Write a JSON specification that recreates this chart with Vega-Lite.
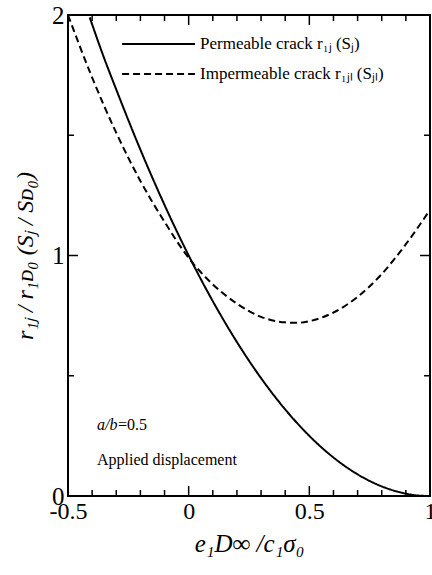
{
  "$schema": "https://vega.github.io/schema/vega-lite/v6.json",
  "width": 362,
  "height": 481,
  "autosize": {"type": "none"},
  "padding": {"left": 68, "top": 15, "right": 2, "bottom": 79},
  "background": "white",
  "config": {
    "font": "Liberation Serif",
    "view": {"stroke": "black", "strokeWidth": 2},
    "axis": {"grid": false, "domain": false, "labelColor": "black", "tickColor": "black", "titleColor": "black", "labelFlush": false, "labelOverlap": false, "labelBound": false}
  },
  "datasets": {
    "curves": [
      {"x": -0.41, "y": 1.99, "s": "P"},
      {"x": -0.35, "y": 1.82, "s": "P"},
      {"x": -0.3, "y": 1.69, "s": "P"},
      {"x": -0.2, "y": 1.44, "s": "P"},
      {"x": -0.1, "y": 1.21, "s": "P"},
      {"x": 0.0, "y": 1.0, "s": "P"},
      {"x": 0.1, "y": 0.81, "s": "P"},
      {"x": 0.2, "y": 0.64, "s": "P"},
      {"x": 0.3, "y": 0.49, "s": "P"},
      {"x": 0.4, "y": 0.36, "s": "P"},
      {"x": 0.5, "y": 0.25, "s": "P"},
      {"x": 0.6, "y": 0.16, "s": "P"},
      {"x": 0.7, "y": 0.09, "s": "P"},
      {"x": 0.8, "y": 0.04, "s": "P"},
      {"x": 0.9, "y": 0.01, "s": "P"},
      {"x": 0.95, "y": 0.002, "s": "P"},
      {"x": 1.0, "y": 0.0, "s": "P"},
      {"x": -0.5, "y": 2.0, "s": "I"},
      {"x": -0.4, "y": 1.74, "s": "I"},
      {"x": -0.3, "y": 1.51, "s": "I"},
      {"x": -0.2, "y": 1.31, "s": "I"},
      {"x": -0.1, "y": 1.14, "s": "I"},
      {"x": 0.0, "y": 0.99, "s": "I"},
      {"x": 0.1, "y": 0.88, "s": "I"},
      {"x": 0.2, "y": 0.8, "s": "I"},
      {"x": 0.3, "y": 0.745, "s": "I"},
      {"x": 0.4, "y": 0.722, "s": "I"},
      {"x": 0.45, "y": 0.72, "s": "I"},
      {"x": 0.5, "y": 0.727, "s": "I"},
      {"x": 0.6, "y": 0.763, "s": "I"},
      {"x": 0.7, "y": 0.828, "s": "I"},
      {"x": 0.8, "y": 0.923, "s": "I"},
      {"x": 0.9, "y": 1.047, "s": "I"},
      {"x": 1.0, "y": 1.19, "s": "I"}
    ],
    "xt": [
      {"v": -0.4, "m": 0}, {"v": -0.3, "m": 0}, {"v": -0.2, "m": 0}, {"v": -0.1, "m": 0},
      {"v": 0.0, "m": 1}, {"v": 0.1, "m": 0}, {"v": 0.2, "m": 0}, {"v": 0.3, "m": 0}, {"v": 0.4, "m": 0},
      {"v": 0.5, "m": 1}, {"v": 0.6, "m": 0}, {"v": 0.7, "m": 0}, {"v": 0.8, "m": 0}, {"v": 0.9, "m": 0}
    ],
    "yt": [
      {"v": 0.5, "m": 0}, {"v": 1.0, "m": 1}, {"v": 1.5, "m": 0}
    ],
    "leg": [
      {"s": "P", "label": "Permeable crack r₁ⱼ (Sⱼ)"},
      {"s": "I", "label": "Impermeable crack r₁ⱼₗ (Sⱼₗ)"}
    ],
    "notes": [
      {"t": "a/b", "k": "it"},
      {"t": "Applied displacement", "k": "rm"}
    ]
  },
  "layer": [
    {
      "data": {"name": "curves"},
      "mark": {"type": "line", "color": "black", "strokeWidth": 2, "interpolate": "monotone", "clip": true},
      "encoding": {
        "x": {"field": "x", "type": "quantitative", "title": "e₁D∞ /c₁σ₀", "scale": {"domain": [-0.5, 1], "nice": false, "zero": false},
          "axis": {"orient": "bottom", "values": [-0.5, 0, 0.5, 1], "ticks": false, "labelFontSize": 24, "labelPadding": 3,
            "labelExpr": "datum.value < 0 ? '-0.5' : format(datum.value, '~g')",
            "title": "e₁D∞ /c₁σ₀", "titleFontSize": 25, "titleFontStyle": "italic", "titleFontWeight": "normal", "titlePadding": 8}},
        "y": {"field": "y", "type": "quantitative", "title": "r₁ⱼ / r₁ᴅ₀  (Sⱼ / Sᴅ₀)", "scale": {"domain": [0, 2], "nice": false},
          "axis": {"orient": "left", "values": [0, 1, 2], "ticks": false, "labelFontSize": 25, "labelPadding": 4,
            "labelExpr": "format(datum.value, '~g')",
            "title": "r₁ⱼ / r₁ᴅ₀  (Sⱼ / Sᴅ₀)", "titleFontSize": 24, "titleFontStyle": "italic", "titleFontWeight": "normal", "titlePadding": 14}},
        "strokeDash": {"field": "s", "type": "nominal",
          "scale": {"domain": ["P", "I"], "range": [[1, 0], [7, 4]]}, "legend": null}
      }
    },
    {
      "data": {"name": "xt"},
      "mark": {"type": "tick", "orient": "vertical", "thickness": 1.5, "color": "black", "opacity": 1, "clip": true},
      "encoding": {
        "x": {"field": "v", "type": "quantitative", "title": "e₁D∞ /c₁σ₀"},
        "y": {"datum": 0, "title": "r₁ⱼ / r₁ᴅ₀  (Sⱼ / Sᴅ₀)"},
        "size": {"field": "m", "type": "ordinal", "scale": {"domain": [0, 1], "range": [12, 20]}, "legend": null}
      }
    },
    {
      "data": {"name": "xt"},
      "mark": {"type": "tick", "orient": "vertical", "thickness": 1.5, "color": "black", "opacity": 1, "clip": true},
      "encoding": {
        "x": {"field": "v", "type": "quantitative", "title": "e₁D∞ /c₁σ₀"},
        "y": {"datum": 2, "title": "r₁ⱼ / r₁ᴅ₀  (Sⱼ / Sᴅ₀)"},
        "size": {"field": "m", "type": "ordinal", "scale": {"domain": [0, 1], "range": [12, 20]}, "legend": null}
      }
    },
    {
      "data": {"name": "yt"},
      "mark": {"type": "tick", "orient": "horizontal", "thickness": 1.5, "color": "black", "opacity": 1, "clip": true},
      "encoding": {
        "y": {"field": "v", "type": "quantitative", "title": "r₁ⱼ / r₁ᴅ₀  (Sⱼ / Sᴅ₀)"},
        "x": {"datum": -0.5, "title": "e₁D∞ /c₁σ₀"},
        "size": {"field": "m", "type": "ordinal", "scale": {"domain": [0, 1], "range": [16, 26]}, "legend": null}
      }
    },
    {
      "data": {"name": "yt"},
      "mark": {"type": "tick", "orient": "horizontal", "thickness": 1.5, "color": "black", "opacity": 1, "clip": true},
      "encoding": {
        "y": {"field": "v", "type": "quantitative", "title": "r₁ⱼ / r₁ᴅ₀  (Sⱼ / Sᴅ₀)"},
        "x": {"datum": 1, "title": "e₁D∞ /c₁σ₀"},
        "size": {"field": "m", "type": "ordinal", "scale": {"domain": [0, 1], "range": [16, 26]}, "legend": null}
      }
    },
    {
      "data": {"name": "leg"},
      "transform": [{"filter": "datum.s == 'P'"}],
      "mark": {"type": "rule", "color": "black", "strokeWidth": 2},
      "encoding": {"x": {"datum": -0.276}, "x2": {"datum": 0.026}, "y": {"datum": 1.879}}
    },
    {
      "data": {"name": "leg"},
      "transform": [{"filter": "datum.s == 'I'"}],
      "mark": {"type": "rule", "color": "black", "strokeWidth": 2, "strokeDash": [7, 4]},
      "encoding": {"x": {"datum": -0.276}, "x2": {"datum": 0.026}, "y": {"datum": 1.755}}
    },
    {
      "data": {"name": "leg"},
      "transform": [{"filter": "datum.s == 'P'"}],
      "mark": {"type": "text", "align": "left", "baseline": "middle", "fontSize": 17, "color": "black"},
      "encoding": {"x": {"datum": 0.047}, "y": {"datum": 1.879}, "text": {"field": "label"}}
    },
    {
      "data": {"name": "leg"},
      "transform": [{"filter": "datum.s == 'I'"}],
      "mark": {"type": "text", "align": "left", "baseline": "middle", "fontSize": 17, "color": "black"},
      "encoding": {"x": {"datum": 0.047}, "y": {"datum": 1.755}, "text": {"field": "label"}}
    },
    {
      "data": {"name": "notes"},
      "transform": [{"filter": "datum.k == 'it'"}],
      "mark": {"type": "text", "align": "left", "baseline": "middle", "fontSize": 16, "fontStyle": "italic", "color": "black"},
      "encoding": {"x": {"datum": -0.38}, "y": {"datum": 0.295}, "text": {"field": "t"}}
    },
    {
      "data": {"name": "notes"},
      "transform": [{"filter": "datum.k == 'it'"}],
      "mark": {"type": "text", "align": "left", "baseline": "middle", "fontSize": 16, "dx": 21, "color": "black"},
      "encoding": {"x": {"datum": -0.38}, "y": {"datum": 0.295}, "text": {"value": "=0.5"}}
    },
    {
      "data": {"name": "notes"},
      "transform": [{"filter": "datum.k == 'rm'"}],
      "mark": {"type": "text", "align": "left", "baseline": "middle", "fontSize": 16, "color": "black"},
      "encoding": {"x": {"datum": -0.38}, "y": {"datum": 0.15}, "text": {"field": "t"}}
    }
  ]
}
